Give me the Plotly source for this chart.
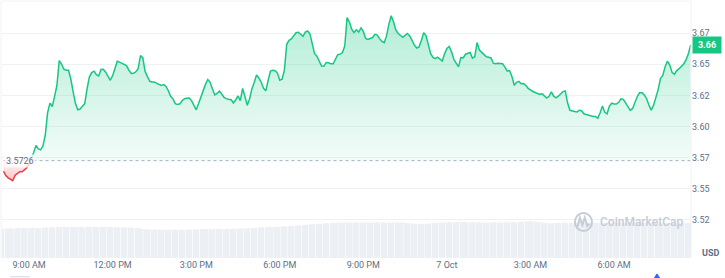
import math
import pandas as pd
import plotly.graph_objects as go

# ---------------- data ----------------
start_time = "2024-10-06 08:05"
baseline = 3.5726  # reference (open) price

prices = [
    3.5641, 3.5606, 3.5588, 3.5578, 3.5565, 3.5609, 3.5621, 3.5637, 3.5637, 3.5650,
    3.5669, 3.5699, 3.5742, 3.5791, 3.5848, 3.5821, 3.5813, 3.5844, 3.5933, 3.6112,
    3.6187, 3.6160, 3.6242, 3.6329, 3.6529, 3.6501, 3.6459, 3.6451, 3.6451, 3.6381,
    3.6277, 3.6184, 3.6134, 3.6140, 3.6162, 3.6184, 3.6303, 3.6399, 3.6433, 3.6444,
    3.6415, 3.6405, 3.6457, 3.6459, 3.6436, 3.6398, 3.6371, 3.6408, 3.6474, 3.6524,
    3.6517, 3.6507, 3.6494, 3.6489, 3.6453, 3.6425, 3.6427, 3.6439, 3.6463, 3.6569,
    3.6552, 3.6442, 3.6400, 3.6363, 3.6357, 3.6358, 3.6346, 3.6335, 3.6330, 3.6336,
    3.6321, 3.6287, 3.6243, 3.6222, 3.6184, 3.6176, 3.6182, 3.6209, 3.6223, 3.6227,
    3.6229, 3.6208, 3.6174, 3.6134, 3.6182, 3.6236, 3.6273, 3.6338, 3.6377, 3.6355,
    3.6301, 3.6253, 3.6265, 3.6284, 3.6261, 3.6233, 3.6224, 3.6217, 3.6217, 3.6189,
    3.6213, 3.6245, 3.6208, 3.6305, 3.6241, 3.6171, 3.6221, 3.6302, 3.6353, 3.6414,
    3.6389, 3.6355, 3.6307, 3.6287, 3.6369, 3.6444, 3.6451, 3.6448, 3.6429, 3.6371,
    3.6380, 3.6452, 3.6660, 3.6692, 3.6703, 3.6733, 3.6752, 3.6756, 3.6739, 3.6724,
    3.6757, 3.6766, 3.6744, 3.6664, 3.6584, 3.6564, 3.6525, 3.6485, 3.6483, 3.6514,
    3.6511, 3.6503, 3.6503, 3.6545, 3.6576, 3.6581, 3.6593, 3.6645, 3.6874, 3.6839,
    3.6781, 3.6754, 3.6776, 3.6758, 3.6791, 3.6763, 3.6707, 3.6698, 3.6708, 3.6714,
    3.6739, 3.6734, 3.6705, 3.6683, 3.6672, 3.6727, 3.6819, 3.6889, 3.6841, 3.6774,
    3.6746, 3.6731, 3.6716, 3.6731, 3.6746, 3.6726, 3.6688, 3.6653, 3.6630, 3.6639,
    3.6690, 3.6753, 3.6730, 3.6650, 3.6585, 3.6555, 3.6545, 3.6556, 3.6540, 3.6525,
    3.6583, 3.6626, 3.6642, 3.6599, 3.6539, 3.6513, 3.6479, 3.6553, 3.6551, 3.6580,
    3.6589, 3.6594, 3.6549, 3.6560, 3.6674, 3.6614, 3.6595, 3.6577, 3.6560, 3.6556,
    3.6550, 3.6508, 3.6504, 3.6507, 3.6504, 3.6503, 3.6476, 3.6444, 3.6449, 3.6402,
    3.6331, 3.6354, 3.6362, 3.6343, 3.6345, 3.6330, 3.6306, 3.6290, 3.6281, 3.6273,
    3.6265, 3.6258, 3.6262, 3.6245, 3.6229, 3.6242, 3.6278, 3.6243, 3.6230, 3.6243,
    3.6262, 3.6280, 3.6286, 3.6188, 3.6130, 3.6123, 3.6120, 3.6116, 3.6130, 3.6127,
    3.6102, 3.6096, 3.6091, 3.6080, 3.6080, 3.6080, 3.6065, 3.6110, 3.6164, 3.6114,
    3.6102, 3.6164, 3.6187, 3.6180, 3.6180, 3.6194, 3.6222, 3.6217, 3.6189, 3.6153,
    3.6130, 3.6145, 3.6191, 3.6241, 3.6270, 3.6270, 3.6255, 3.6225, 3.6172, 3.6132,
    3.6169, 3.6229, 3.6296, 3.6385, 3.6410, 3.6479, 3.6524, 3.6493, 3.6434, 3.6418,
    3.6449, 3.6464, 3.6480, 3.6502, 3.6534, 3.6583, 3.6655,
]

volumes = [  # millions USD
    29.4, 29.8, 29.6, 30.1, 29.7, 29.5, 29.9, 30.2, 29.8, 29.6, 30.0, 29.7, 29.9, 30.3, 30.1,
    29.8, 30.0, 30.4, 30.2, 30.6, 30.8,
    31.0, 30.7, 31.2, 30.9, 31.1, 31.4, 30.8, 31.0, 31.3, 30.9, 31.1, 30.8, 31.2, 31.0, 30.7,
    31.3, 31.1, 30.9, 31.2, 31.0, 30.8, 31.1, 31.3, 30.9, 31.0, 31.2, 30.8, 31.0, 30.6, 30.9,
    30.7, 30.5, 30.8, 30.4, 30.6, 30.2, 30.0, 29.8, 29.6,
    29.0, 28.7, 28.5, 28.8, 28.3, 28.6, 28.2, 28.4, 28.1, 28.5, 28.3, 28.0, 28.4, 28.2, 28.6,
    28.3, 28.1, 28.5, 28.2, 28.4, 28.6, 28.3, 28.7, 28.5, 28.8,
    28.9, 29.1, 28.8, 29.2, 29.0, 28.7, 29.1, 28.9, 29.3, 29.0, 28.8, 29.2, 29.4, 29.1, 29.3,
    29.0, 29.5, 29.2, 29.6, 29.4, 29.7, 29.9, 30.1, 29.8, 30.2, 30.4,
    30.6, 30.8, 30.5, 30.9, 31.1, 30.8, 31.2, 31.4, 31.1, 31.5, 31.8, 31.6, 32.0, 32.3, 32.1,
    32.5, 32.8, 32.6,
    33.0, 33.3, 33.1, 33.6, 33.9, 33.7, 34.1, 34.4, 34.2, 34.6, 34.9, 34.7, 35.1, 35.3, 35.0,
    35.4, 35.6,
    35.3, 35.7, 35.5, 35.8, 35.4, 35.6, 35.9, 35.5, 35.7, 35.3, 35.6, 35.8, 35.4, 35.7, 35.5,
    35.9, 35.6, 35.4, 35.8, 35.5, 35.7, 35.3, 35.6, 35.8, 35.5, 35.4, 35.7, 35.3, 35.1, 34.9,
    34.6, 34.4, 34.2, 34.0, 34.1,
    34.3, 34.2, 34.5, 34.7, 34.9, 35.1, 35.3, 35.6, 35.5, 35.8, 35.6, 35.9, 35.7, 35.5, 35.8,
    36.0, 36.3, 36.1, 35.9, 35.7, 35.5, 35.8, 35.6, 35.4, 35.7, 35.5, 35.3, 35.6, 35.4, 35.7,
    35.5, 35.8, 35.6, 35.4, 35.7, 35.5, 35.9, 35.6, 35.8, 36.0, 35.7, 35.9, 36.2, 36.5, 36.8,
    36.6, 36.9, 36.7, 36.4, 36.1, 35.8, 35.5, 35.2, 35.0, 34.8, 34.6, 34.9, 35.1, 35.3, 35.0,
    35.2, 35.4, 35.1, 35.3, 35.5, 35.2, 35.4, 35.6, 35.3, 35.5,
    35.3, 35.6, 35.4, 35.2, 35.5, 35.3, 35.1, 35.4, 35.2, 35.5, 35.3, 35.6, 35.4, 35.2, 35.5,
    35.3, 35.0, 35.2, 35.4, 35.1, 35.3, 35.5, 35.2, 35.4, 35.1, 35.3, 35.0, 35.2, 34.9, 35.1,
    35.3, 35.0, 35.2, 34.8, 35.0, 35.2, 34.9, 35.1, 34.8, 35.0, 35.2, 34.9, 35.1, 34.8, 35.0,
    35.1,
]

price_tick_vals = [3.525, 3.55, 3.575, 3.60, 3.625, 3.65, 3.675]
price_tick_text = ["3.52", "3.55", "3.57", "3.60", "3.62", "3.65", "3.67"]

time_tick_vals = ["2024-10-06 09:00", "2024-10-06 12:00", "2024-10-06 15:00",
                  "2024-10-06 18:00", "2024-10-06 21:00", "2024-10-07 00:00",
                  "2024-10-07 03:00", "2024-10-07 06:00"]
time_tick_text = ["9:00 AM", "12:00 PM", "3:00 PM", "6:00 PM", "9:00 PM",
                  "7 Oct", "3:00 AM", "6:00 AM"]

x_range = ["2024-10-06 07:59:36", "2024-10-07 08:45:45"]
price_range = [3.4945, 3.7007]
volume_range = [0, 257]

# ---------------- derived ----------------
n = min(len(prices), len(volumes))
prices = prices[:n]
volumes = volumes[:n]
times = list(pd.date_range(start_time, periods=n, freq="5min"))

# crossing of the baseline (first up-cross)
k = next(i for i in range(1, n) if prices[i - 1] < baseline <= prices[i])
frac = (baseline - prices[k - 1]) / (prices[k] - prices[k - 1])
t_cross = times[k - 1] + (times[k] - times[k - 1]) * frac

red_x = times[:k] + [t_cross]
red_y = prices[:k] + [baseline]
green_x = [t_cross] + times[k:]
green_y = [baseline] + prices[k:]

GREEN = "#16c784"
RED = "#ea3943"
GRID = "#eff2f5"
LABEL = "#616e85"
WATERMARK = "#c6ccd6"
FONT = "Roboto, Inter, sans-serif"

fig = go.Figure()

# volume bars (secondary axis)
fig.add_trace(go.Bar(x=times, y=volumes, yaxis="y2", marker=dict(color="#eceff3", line=dict(width=0)),
                     hoverinfo="skip", showlegend=False))

# dotted baseline
fig.add_trace(go.Scatter(x=[times[0], times[-1]], y=[baseline, baseline], mode="lines",
                         line=dict(color="#a7b1c2", width=1, dash="dot"), hoverinfo="skip", showlegend=False))

# red segment (below baseline)
fig.add_trace(go.Scatter(x=[red_x[0], red_x[-1]], y=[baseline, baseline], mode="lines",
                         line=dict(width=0), hoverinfo="skip", showlegend=False))
fig.add_trace(go.Scatter(x=red_x, y=red_y, mode="lines", line=dict(color=RED, width=1.5),
                         fill="tonexty",
                         fillgradient=dict(type="vertical", start=min(prices), stop=baseline,
                                           colorscale=[[0, "rgba(234,57,67,0.30)"], [1, "rgba(234,57,67,0.05)"]]),
                         hoverinfo="skip", showlegend=False))

# green segment (above baseline)
fig.add_trace(go.Scatter(x=[green_x[0], green_x[-1]], y=[baseline, baseline], mode="lines",
                         line=dict(width=0), hoverinfo="skip", showlegend=False))
fig.add_trace(go.Scatter(x=green_x, y=green_y, mode="lines", line=dict(color=GREEN, width=1.5),
                         fill="tonexty",
                         fillgradient=dict(type="vertical", start=baseline, stop=max(prices),
                                           colorscale=[[0, "rgba(22,199,132,0.05)"], [1, "rgba(22,199,132,0.32)"]]),
                         hoverinfo="skip", showlegend=False))

last_label = f"{math.floor(prices[-1] * 100) / 100:.2f}"

annotations = [
    dict(xref="paper", yref="y", x=0, y=baseline, xanchor="left", yanchor="middle", xshift=3,
         text=f"{baseline}", showarrow=False, font=dict(family=FONT, size=9, color=LABEL),
         bgcolor="rgba(255,255,255,0.75)", borderpad=1),
    dict(xref="paper", yref="y", x=1, y=prices[-1], xanchor="left", yanchor="middle", xshift=1,
         text=f"<b>{last_label}</b>", showarrow=False, font=dict(family=FONT, size=9, color="white"),
         bgcolor=GREEN, borderpad=3, width=22, align="center"),
    dict(xref="paper", yref="paper", x=1, y=0, xanchor="left", yanchor="middle", xshift=9, yshift=5,
         text="<b>USD</b>", showarrow=False, font=dict(family=FONT, size=9, color=LABEL)),
    dict(xref="paper", yref="paper", x=0.865, y=0.14, xanchor="left", yanchor="middle",
         text="CoinMarketCap", showarrow=False, font=dict(family=FONT, size=12, color=WATERMARK, weight=500)),
]

shapes = [
    dict(type="line", xref="paper", yref="paper", x0=0, x1=1, y0=1, y1=1, line=dict(color=GRID, width=1)),
    dict(type="line", xref="paper", yref="paper", x0=0, x1=0, y0=0, y1=1, line=dict(color=GRID, width=1)),
    dict(type="line", xref="paper", yref="paper", x0=1, x1=1, y0=0, y1=1, line=dict(color=GRID, width=1)),
    # watermark logo
    dict(type="circle", xref="paper", yref="paper", x0=0.8318, x1=0.8565, y0=0.105, y1=0.175,
         line=dict(color=WATERMARK, width=2)),
    dict(type="path", xref="paper", yref="paper",
         path="M 0.8355,0.122 L 0.8390,0.157 L 0.8425,0.128 L 0.8460,0.157 L 0.8495,0.125 L 0.8530,0.133",
         line=dict(color=WATERMARK, width=2)),
    # small blue scroll marker at the bottom edge
    dict(type="path", xref="paper", yref="paper",
         path="M 0.9464,-0.080 L 0.9507,-0.062 L 0.9551,-0.080 Z",
         fillcolor="#3861fb", line=dict(color="#3861fb", width=1)),
    # underline below the first time label
    dict(type="line", xref="paper", yref="paper", x0=0.013, x1=0.042, y0=-0.073, y1=-0.073,
         line=dict(color="#cfd6e4", width=1)),
]

fig.update_layout(
    width=725, height=278,
    margin=dict(l=1, r=34, t=1, b=20),
    paper_bgcolor="white", plot_bgcolor="white",
    bargap=0.3,
    showlegend=False,
    hovermode=False,
    font=dict(family=FONT, size=9, color=LABEL),
    xaxis=dict(type="date", range=x_range, tickvals=time_tick_vals, ticktext=time_tick_text,
               showgrid=False, zeroline=False, showline=False, ticks="",
               tickfont=dict(family=FONT, size=9, color=LABEL)),
    yaxis=dict(range=price_range, side="right", tickvals=price_tick_vals, ticktext=price_tick_text,
               showgrid=True, gridcolor=GRID, gridwidth=1, zeroline=False, showline=False, ticks="",
               tickfont=dict(family=FONT, size=9, color=LABEL)),
    yaxis2=dict(range=volume_range, overlaying="y", showgrid=False, showticklabels=False,
                zeroline=False, visible=False),
    annotations=annotations,
    shapes=shapes,
)

fig.write_html("out.html")
